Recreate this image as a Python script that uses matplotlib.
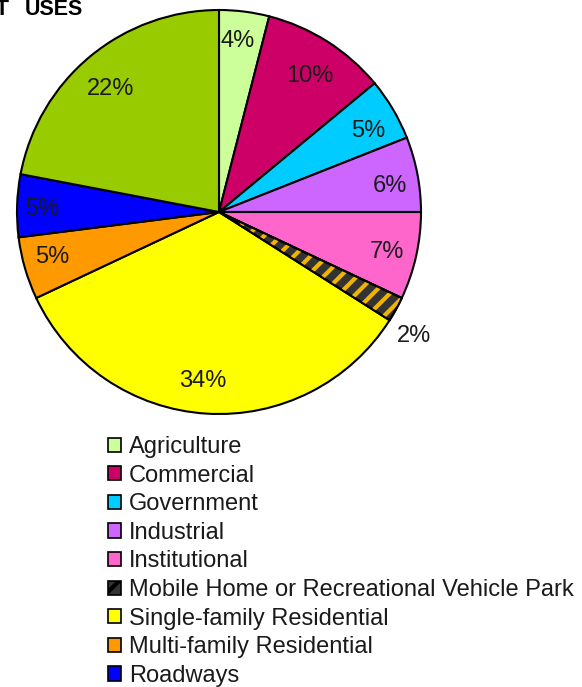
import matplotlib
matplotlib.use("Agg")
import matplotlib.pyplot as plt
from matplotlib.patches import Wedge, Patch
import numpy as np

categories = ["Agriculture", "Commercial", "Government", "Industrial", "Institutional",
              "Mobile Home or Recreational Vehicle Park", "Single-family Residential",
              "Multi-family Residential", "Roadways", "Vacant"]
values = [4, 10, 5, 6, 7, 2, 34, 5, 5, 22]
colors = ["#CCFF99", "#CC0066", "#00CCFF", "#CC66FF", "#FF66CC",
          "#333333", "#FFFF00", "#FF9900", "#0000FF", "#99CC00"]
labels_pct = ["4%", "10%", "5%", "6%", "7%", "2%", "34%", "5%", "5%", "22%"]
n_legend_visible = 9  # the reference legend is cropped after "Roadways"

# label placement style (radius fraction, angle offset in degrees)
label_dist = [0.85, 0.81, 0.84, 0.857, 0.856, 1.145, 0.84, 0.857, 0.874, 0.81]
label_dang = [1.0, -1.5, -2.0, -2.0, -0.7, -3.7, -2.0, -1.2, 0.8, 1.8]

W, H = 582, 687
plt.rcParams['font.family'] = ['Liberation Sans', 'DejaVu Sans']
plt.rcParams['hatch.linewidth'] = 3.0
fig = plt.figure(figsize=(W / 100, H / 100), dpi=100)

cx, cy, R = 219, 212, 202
ax = fig.add_axes([(cx - R) / W, 1 - (cy + R) / H, 2 * R / W, 2 * R / H])
wedges, _ = ax.pie(values, colors=colors, startangle=90, counterclock=False,
                   wedgeprops=dict(edgecolor="black", linewidth=1.5))
ax.set_xlim(-1, 1)
ax.set_ylim(-1, 1)
ax.set_aspect('equal')
ax.axis('off')

# hatch overlay for the mobile home slice
mw = wedges[5]
ax.add_patch(Wedge(mw.center, mw.r, mw.theta1, mw.theta2, facecolor='none',
                   edgecolor='#F2B400', hatch='//', linewidth=0))
ax.add_patch(Wedge(mw.center, mw.r, mw.theta1, mw.theta2, facecolor='none',
                   edgecolor='black', linewidth=1.5))

for i, (w, lab) in enumerate(zip(wedges, labels_pct)):
    ang = np.deg2rad((w.theta1 + w.theta2) / 2 + label_dang[i])
    d = label_dist[i]
    ax.text(d * np.cos(ang), d * np.sin(ang), lab, ha='center', va='center',
            fontsize=17, color='#1a1a1a')

# title (cropped at the edge, as in reference)
fig.text(9 / W, 1 - 15 / H, "CURRENT", ha='right', va='baseline',
         fontsize=16, fontweight='bold', color='black')
fig.text(25 / W, 1 - 15 / H, "USES", ha='left', va='baseline',
         fontsize=15.5, fontweight='bold', color='black')

handles = []
for i, c in enumerate(colors[:n_legend_visible]):
    if i == 5:
        handles.append(Patch(facecolor=c, edgecolor='black', hatch='//', linewidth=1.2))
    else:
        handles.append(Patch(facecolor=c, edgecolor='black', linewidth=1.2))
leg = fig.legend(handles, categories[:n_legend_visible], loc='upper left',
                 bbox_to_anchor=(108 / W, 1 - 436 / H), frameon=False,
                 fontsize=17, labelspacing=0.28, handlelength=0.55, handleheight=0.55,
                 handletextpad=0.34, borderpad=0, borderaxespad=0)
for t in leg.get_texts():
    t.set_color('#1a1a1a')

fig.savefig("out.png", dpi=100)
